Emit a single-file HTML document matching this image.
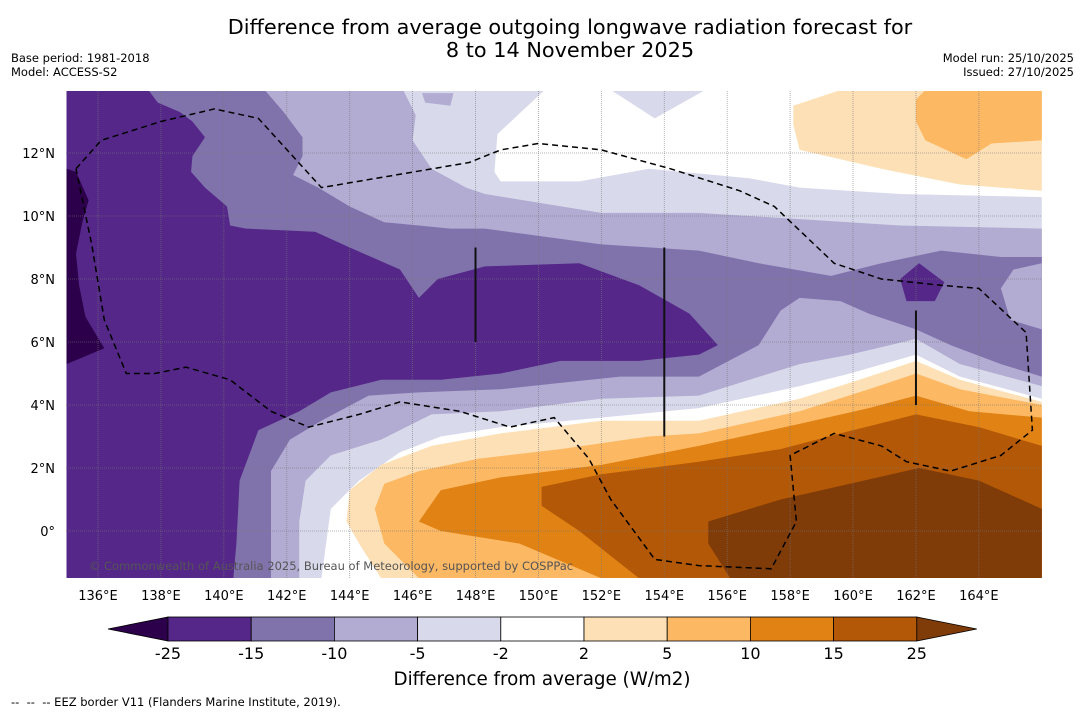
<!DOCTYPE html>
<html><head><meta charset="utf-8"><style>
body{margin:0;background:#fff;width:1085px;height:713px;overflow:hidden;font-family:"DejaVu Sans","Liberation Sans",sans-serif}
svg{display:block}
</style></head><body>
<svg id="c" width="1085" height="713" xmlns="http://www.w3.org/2000/svg" font-family="DejaVu Sans, Liberation Sans, sans-serif">
<text x="570" y="34" font-size="20.8" text-anchor="middle">Difference from average outgoing longwave radiation forecast for</text>
<text x="570" y="57" font-size="20.8" text-anchor="middle">8 to 14 November 2025</text>
<text x="11" y="62" font-size="11.5">Base period: 1981-2018</text>
<text x="11" y="76" font-size="11.5">Model: ACCESS-S2</text>
<text x="1074" y="62" font-size="11.5" text-anchor="end">Model run: 25/10/2025</text>
<text x="1074" y="76" font-size="11.5" text-anchor="end">Issued: 27/10/2025</text>
<defs><clipPath id="mc"><rect x="66" y="91" width="976" height="487"/></clipPath></defs>
<g id="map" clip-path="url(#mc)"><rect x="66" y="91" width="976" height="487" fill="#fff"/></g>
<g id="axes"></g>
<g id="cbar"></g>
<text x="542" y="685" font-size="18.3" text-anchor="middle">Difference from average (W/m2)</text>
<text x="11" y="706" font-size="11.5" xml:space="preserve">--  --  -- EEZ border V11 (Flanders Marine Institute, 2019).</text>
</svg>
<script>
const lonTicks=[136,138,140,142,144,146,148,150,152,154,156,158,160,162,164];
const latTicks=[0,2,4,6,8,10,12];
const levelColors=["#2d004b","#542788","#8073ac","#b2abd2","#d8daeb","#ffffff","#fee0b6","#fdb863","#e08214","#b35806","#7f3b08"];
const levelLabels=["-25","-15","-10","-5","-2","2","5","10","15","25"];
// contour regions [lon,lat,...]
const regA=[135,14,150.2,14,148.7,12.6,148.6,11.4,148.8,11.1,151.3,11.1,153.5,11.5,156.7,11.2,158.3,10.9,161.5,10.7,166,10.6,166,4.2,163.4,4.9,162,5.6,159.9,5.0,158.3,4.6,155.1,3.9,152,3.6,148.8,3.3,146.9,3.0,145.6,2.5,144.3,1.6,143.4,0.7,143.1,-1.5,135,-1.5];
const regB=[152.3,14,155.3,14,153.7,13.1];
const regC=[135,14,145.7,14,146.1,13.2,146.0,12.4,146.6,11.5,147.7,10.9,148.3,10.7,152,10.1,155.1,10.1,158.3,9.9,161.5,9.7,166,9.6,166,4.6,163.4,5.3,162,6.1,159.9,5.6,158.3,5.3,155.1,4.3,152,4.2,148.8,3.8,146.6,3.7,145,2.9,143.4,2.4,142.6,1.6,142.4,0.3,142.4,-1.5,135,-1.5];
const regC2=[146.3,13.9,147.3,13.9,147.2,13.5,146.4,13.6];
const regD=[135,14,141.3,14,141.9,13.3,142.5,12.5,142.5,11.9,142.2,11.3,143.0,10.9,144.0,10.3,145.1,9.8,146.2,9.7,147.2,9.6,148.3,9.6,152,9.1,155.1,8.9,157,8.5,159.3,8.1,160.9,8.5,162.8,8.9,164.7,8.7,166,8.7,166,4.9,164.7,5.3,163.1,5.9,162,6.4,160.5,6.9,159.6,7.3,158.3,7.4,157.7,7.0,157,5.9,155.1,4.9,152.6,4.9,150.7,4.7,148.8,4.5,146.2,4.4,144.6,4.3,143.1,3.5,142.1,2.9,141.5,1.9,141.5,-1.5,135,-1.5];
const regD2=[166,8.5,165.1,8.3,164.7,7.7,165.0,6.7,166,6.4];
const regE=[135,14,137.6,14,137.9,13.6,138.6,13.3,139.0,13.0,139.4,12.5,139.0,11.9,138.96,11.4,139.4,10.9,140.1,10.3,140.2,9.7,140.7,9.6,142.9,9.5,144.0,9.0,145.6,8.3,146.2,7.4,146.8,8.0,148.3,8.4,151.3,8.5,153.2,7.8,154.8,6.9,155.7,5.9,155.1,5.6,153.2,5.4,150.7,5.4,148.8,5.0,146.9,4.8,145,4.8,143.4,4.4,142.4,3.8,141.1,3.2,140.5,1.6,140.4,-0.4,140.3,-1.5,135,-1.5];
const regE2=[161.5,8.0,162.1,8.5,162.9,7.9,162.6,7.3,161.7,7.3];
const regF=[135,11.5,135.3,11.4,135.7,10.5,135.5,9.8,135.3,8.8,135.4,7.8,135.6,6.8,136.2,5.8,135,5.3];
const regG=[143.9,0.3,144.0,1.3,145,2.1,146.6,2.7,148.8,3.1,152,3.5,155.1,3.5,158.3,4.2,160.2,4.8,162,5.4,163.4,4.8,166,4.1,166,-1.5,145,-1.5,144.3,-0.4];
const regH=[144.8,0.7,145.1,1.5,146.2,1.9,148.1,2.3,150.7,2.6,153.5,3.0,155.1,3.1,158.3,3.8,160.5,4.5,162,5.0,163.4,4.5,166,4.0,166,-1.5,146.2,-1.5,145.1,-0.4];
const regI=[146.2,0.3,146.9,1.3,148.8,1.7,152,2.1,155.1,2.7,158.3,3.4,160.5,3.9,162,4.3,163.7,3.8,166,3.6,166,-1.5,152,-1.5,149.4,-0.4,146.9,0.0];
const regJ=[150.1,1.4,152,1.8,155.1,2.2,157.7,2.6,159.6,3.1,162,3.7,164,3.3,166,2.7,166,-1.5,153.2,-1.5,151.3,0.0,150.1,0.8];
const regK=[155.4,0.3,157.7,1.0,159.9,1.5,162.1,2.0,164,1.6,166,0.7,166,-1.5,156.1,-1.5,155.4,-0.4];
const regL=[158.1,13.5,159.6,14,166,14,166,10.8,163.4,11.0,160.9,11.5,158.3,12.1,158.1,12.9];
const regM=[162,13.7,162.3,14,166,14,166,12.4,164.4,12.3,163.6,11.8,162.3,12.4,162,13.0];
const eez=[135.3,11.5,136.1,12.4,138,13.0,139.7,13.4,141.1,13.1,143.1,10.9,147.8,11.7,148.8,12.1,150,12.3,152,12.1,154.2,11.5,156.4,10.8,157.5,10.3,159.4,8.5,160.9,8.0,162.8,7.8,164,7.7,165.5,6.3,165.7,3.2,164.7,2.4,163.1,1.9,161.7,2.2,160.9,2.7,159.4,3.1,158,2.4,158.2,0.3,157.4,-1.2,155.1,-1.1,153.7,-0.9,152.3,1.0,151.6,2.3,150.5,3.6,149.1,3.3,147.5,3.8,145.6,4.1,144.3,3.7,142.7,3.3,141.5,3.8,140.2,4.8,138.8,5.2,137.8,5.0,136.9,5.0,136.2,6.7,135.8,9.1,135.3,11.5];
const markerLon=[148,154,162];const markerLat0=[6,3,4];const markerLat1=[9,9,7];

const NS="http://www.w3.org/2000/svg";
const X=lon=>98+(lon-136)*31.46;
const Y=lat=>531-lat*31.5;
function mk(tag,attrs,parent){const e=document.createElementNS(NS,tag);for(const k in attrs)e.setAttribute(k,attrs[k]);parent.appendChild(e);return e;}
function pts(a){let s=[];for(let i=0;i<a.length;i+=2)s.push(X(a[i]).toFixed(1)+","+Y(a[i+1]).toFixed(1));return s.join(" ");}
const map=document.getElementById('map');
const regions=[[regA,4,'region-below-minus2'],[regB,4,'region-below-minus2-north'],[regC,3,'region-below-minus5'],[regC2,3,'region-below-minus5-patch'],[regD,2,'region-below-minus10'],[regD2,3,'region-below-minus5-east'],[regE,1,'region-below-minus15'],[regE2,1,'region-below-minus15-east'],[regF,0,'region-below-minus25'],[regG,6,'region-above-2'],[regH,7,'region-above-5'],[regI,8,'region-above-10'],[regJ,9,'region-above-15'],[regK,10,'region-above-25'],[regL,6,'region-above-2-north'],[regM,7,'region-above-5-north']];
regions.forEach(r=>{const p=mk('polygon',{points:pts(r[0]),fill:levelColors[r[1]]},map);

});
lonTicks.forEach(l=>{const g=mk('line',{x1:X(l),x2:X(l),y1:91,y2:578,stroke:'#777','stroke-width':0.8,'stroke-dasharray':'1,1',opacity:0.7},map);

});
latTicks.forEach(l=>{const g=mk('line',{x1:66,x2:1042,y1:Y(l),y2:Y(l),stroke:'#777','stroke-width':0.8,'stroke-dasharray':'1,1',opacity:0.7},map);

});
const ez=mk('polyline',{points:pts(eez),fill:'none',stroke:'#000','stroke-width':1.5,'stroke-dasharray':'6,4'},map);


markerLon.forEach((l,i)=>{const m=mk('line',{x1:X(l),x2:X(l),y1:Y(markerLat0[i]),y2:Y(markerLat1[i]),stroke:'#111','stroke-width':2},map);

});
const cp=mk('text',{x:331,y:570,'font-size':11.5,fill:'#555','text-anchor':'middle'},map);cp.textContent='© Commonwealth of Australia 2025, Bureau of Meteorology, supported by COSPPac';


const ax=document.getElementById('axes');
lonTicks.forEach(l=>{const t=mk('text',{x:X(l),y:600,'font-size':13,'text-anchor':'middle'},ax);t.textContent=l+'°E';

});
latTicks.forEach(l=>{const t=mk('text',{x:55,y:Y(l)+5,'font-size':13,'text-anchor':'end'},ax);t.textContent=l===0?'0°':l+'°N';

});
const cb=document.getElementById('cbar');
const cx0=168,cw=83.2,cy=617,ch=24;
const t1=mk('polygon',{points:`108,629 ${cx0},${cy} ${cx0},${cy+ch}`,fill:levelColors[0],stroke:'#000','stroke-width':0.8},cb);


for(let i=0;i<9;i++){const r=mk('rect',{x:cx0+i*cw,y:cy,width:cw,height:ch,fill:levelColors[i+1],stroke:'#000','stroke-width':0.8},cb);

}
const xe=cx0+9*cw;
const t2=mk('polygon',{points:`${xe},${cy} ${xe+60},629 ${xe},${cy+ch}`,fill:levelColors[10],stroke:'#000','stroke-width':0.8},cb);


levelLabels.forEach((s,i)=>{const t=mk('text',{x:cx0+i*cw,y:659,'font-size':16,'text-anchor':'middle'},cb);t.textContent=s;

});
</script>
</body></html>
